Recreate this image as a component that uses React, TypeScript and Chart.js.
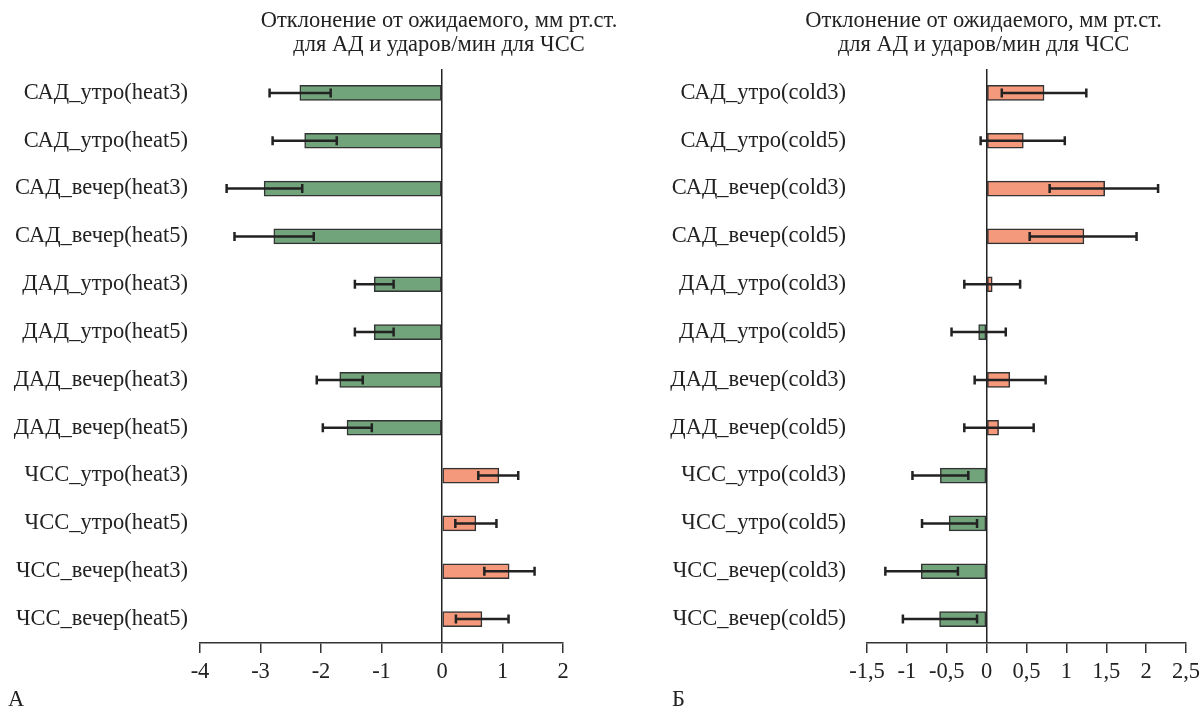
import React, { useEffect, useRef } from "react";
import { Chart, registerables } from "chart.js";

Chart.register(...registerables);

const titleLines = ["Отклонение от ожидаемого, мм рт.ст.", "для АД и ударов/мин для ЧСС"];

const heatLabels = [
  "САД_утро(heat3)", "САД_утро(heat5)", "САД_вечер(heat3)", "САД_вечер(heat5)",
  "ДАД_утро(heat3)", "ДАД_утро(heat5)", "ДАД_вечер(heat3)", "ДАД_вечер(heat5)",
  "ЧСС_утро(heat3)", "ЧСС_утро(heat5)", "ЧСС_вечер(heat3)", "ЧСС_вечер(heat5)",
];
const heatValues = [-2.35, -2.27, -2.94, -2.78, -1.12, -1.12, -1.69, -1.57, 0.94, 0.56, 1.11, 0.66];
const heatLower = [-2.85, -2.8, -3.56, -3.43, -1.44, -1.44, -2.07, -1.97, 0.6, 0.22, 0.7, 0.23];
const heatUpper = [-1.84, -1.74, -2.31, -2.12, -0.8, -0.8, -1.31, -1.16, 1.26, 0.9, 1.53, 1.1];

const coldLabels = [
  "САД_утро(cold3)", "САД_утро(cold5)", "САД_вечер(cold3)", "САД_вечер(cold5)",
  "ДАД_утро(cold3)", "ДАД_утро(cold5)", "ДАД_вечер(cold3)", "ДАД_вечер(cold5)",
  "ЧСС_утро(cold3)", "ЧСС_утро(cold5)", "ЧСС_вечер(cold3)", "ЧСС_вечер(cold5)",
];
const coldValues = [0.72, 0.46, 1.48, 1.22, 0.07, -0.1, 0.29, 0.15, -0.58, -0.47, -0.82, -0.59];
const coldLower = [0.19, -0.075, 0.79, 0.54, -0.28, -0.44, -0.15, -0.28, -0.93, -0.81, -1.27, -1.05];
const coldUpper = [1.25, 0.98, 2.15, 1.88, 0.42, 0.24, 0.74, 0.59, -0.23, -0.12, -0.36, -0.12];

const heatAxis = { min: -4, max: 2, step: 1 };
const coldAxis = { min: -1.5, max: 2.5, step: 0.5 };

const POS = "#f4997b";
const NEG = "#72a47c";
const INK = "#222222";
const FONT = "'Liberation Serif', 'Times New Roman', serif";
const FS = 22.5;

type PanelProps = {
  labels: string[];
  values: number[];
  lower: number[];
  upper: number[];
  axis: { min: number; max: number; step: number };
  letter: string;
  letterX: number;
  yWidth: number;
  yPad: number;
  rightPad: number;
  width: number;
  left: number;
};

function Panel(p: PanelProps) {
  const ref = useRef<HTMLCanvasElement>(null);
  useEffect(() => {
    if (!ref.current) return;
    const extras = {
      id: "extras",
      afterDatasetsDraw(chart: any) {
        const ctx = chart.ctx;
        const xs = chart.scales.x;
        const meta = chart.getDatasetMeta(0);
        ctx.save();
        ctx.strokeStyle = INK;
        ctx.lineWidth = 2.5;
        meta.data.forEach((bar: any, i: number) => {
          const y = bar.y;
          const x1 = xs.getPixelForValue(p.lower[i]);
          const x2 = xs.getPixelForValue(p.upper[i]);
          ctx.beginPath();
          ctx.moveTo(x1, y);
          ctx.lineTo(x2, y);
          ctx.moveTo(x1, y - 4.5);
          ctx.lineTo(x1, y + 4.5);
          ctx.moveTo(x2, y - 4.5);
          ctx.lineTo(x2, y + 4.5);
          ctx.stroke();
        });
        ctx.restore();
      },
      afterDraw(chart: any) {
        const ctx = chart.ctx;
        const xs = chart.scales.x;
        const cx = xs.getPixelForValue(0) - 3;
        ctx.save();
        ctx.fillStyle = INK;
        ctx.font = `${FS}px ${FONT}`;
        ctx.textAlign = "center";
        ctx.textBaseline = "middle";
        ctx.fillText(titleLines[0], cx, 21);
        ctx.fillText(titleLines[1], cx, 45);
        ctx.textAlign = "left";
        ctx.fillText(p.letter, p.letterX, 700);
        ctx.restore();
      },
    };
    const chart = new Chart(ref.current, {
      type: "bar",
      data: {
        labels: p.labels,
        datasets: [
          {
            data: p.values,
            backgroundColor: (c: any) => (c.raw >= 0 ? POS : NEG),
            borderColor: "#333333",
            borderWidth: 1.5,
            borderSkipped: false,
            barThickness: 15,
          },
        ],
      },
      options: {
        indexAxis: "y",
        responsive: false,
        animation: false,
        layout: { padding: { top: 69, right: p.rightPad, bottom: 0, left: 0 } },
        plugins: { legend: { display: false }, tooltip: { enabled: false }, title: { display: false } },
        scales: {
          x: {
            min: p.axis.min,
            max: p.axis.max,
            afterFit: (s: any) => {
              s.height = 69;
              s.paddingLeft = 0;
              s.paddingRight = 0;
            },
            ticks: {
              stepSize: p.axis.step,
              color: INK,
              font: { family: FONT, size: FS },
              padding: 6,
              maxRotation: 0,
              minRotation: 0,
              autoSkip: false,
              callback: (v: any) => String(v).replace(".", ","),
            },
            grid: {
              color: (c: any) => (c.tick && c.tick.value === 0 ? INK : "rgba(0,0,0,0)"),
              lineWidth: 1.5,
              tickColor: "#333333",
              tickLength: 10,
              drawTicks: true,
            },
            border: { display: true, color: "#333333", width: 1.5 },
          },
          y: {
            afterFit: (s: any) => {
              s.width = p.yWidth;
            },
            ticks: {
              color: INK,
              font: { family: FONT, size: FS },
              padding: p.yPad,
            },
            grid: { display: false, drawTicks: false },
            border: { display: false },
          },
        },
      },
      plugins: [extras],
    } as any);
    return () => chart.destroy();
  }, []);
  return (
    <canvas
      ref={ref}
      width={p.width}
      height={712}
      style={{ position: "absolute", left: p.left, top: 0, width: p.width, height: 712 }}
    />
  );
}

export default function App() {
  return (
    <div style={{ position: "fixed", left: 0, top: 0, width: 1203, height: 712, background: "#fff", overflow: "hidden" }}>
      <Panel
        labels={heatLabels}
        values={heatValues}
        lower={heatLower}
        upper={heatUpper}
        axis={heatAxis}
        letter="А"
        letterX={8}
        yWidth={200}
        yPad={12}
        rightPad={97}
        width={660}
        left={0}
      />
      <Panel
        labels={coldLabels}
        values={coldValues}
        lower={coldLower}
        upper={coldUpper}
        axis={coldAxis}
        letter="Б"
        letterX={22}
        yWidth={217}
        yPad={21}
        rightPad={17}
        width={553}
        left={650}
      />
    </div>
  );
}
